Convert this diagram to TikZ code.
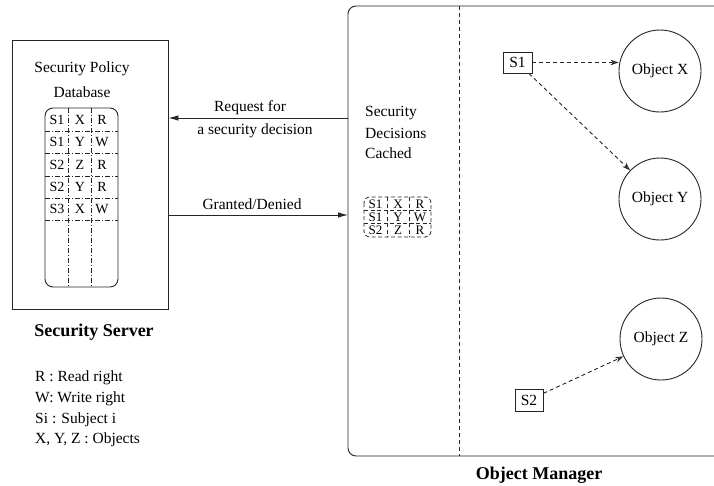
\documentclass[tikz,border=0pt]{standalone}
\usepackage{fontspec}
\setmainfont{Liberation Serif}
\usetikzlibrary{arrows.meta}

\tikzset{
  edge/.style={line width=0.9pt, draw=black!85},
  txt/.style={inner sep=0pt, font=\fontsize{15.5}{20}\selectfont},
  cell/.style={inner sep=0pt, font=\fontsize{14}{16}\selectfont},
  smallcell/.style={inner sep=0pt, font=\fontsize{13}{14}\selectfont},
  heading/.style={inner sep=0pt, font=\fontsize{18}{20}\selectfont\bfseries},
  subject/.style={draw=black!85, line width=0.9pt, inner sep=0pt,
    minimum width=29pt, minimum height=21pt, font=\fontsize{15.5}{20}\selectfont},
  object/.style={circle, draw=black!85, line width=0.9pt, inner sep=0pt,
    minimum size=82pt, font=\fontsize{15.5}{20}\selectfont},
  access/.style={edge, dash pattern=on 4pt off 3pt,
    -{Stealth[open, length=8pt, width=5.5pt]}},
  message/.style={edge, -{Latex[length=10pt, width=5.5pt]}},
  dashdot/.style={line width=0.8pt, draw=black!85,
    dash pattern=on 5pt off 2pt on 1pt off 2pt},
  cachedash/.style={line width=0.8pt, draw=black!85, dash pattern=on 4pt off 2.5pt},
}

\begin{document}
\begin{tikzpicture}[x=1pt, y=-1pt]
\useasboundingbox (0,0) rectangle (714,485);

% ---------- Security server ----------
\node[edge, draw, minimum width=156pt, minimum height=269pt, inner sep=0pt]
  (server) at (90,174.5) {};
\node[txt] (spol) at (82,69) {Security Policy};
\node[txt] (sdb) at (82,92) {Database};

% policy table
\draw[edge, rounded corners=8pt] (45,108) rectangle (118,287);
\foreach \x in {68,91} \draw[dashdot] (\x,108) -- (\x,287);
\foreach \y in {131,153,176,198,220} \draw[dashdot] (45,\y) -- (118,\y);
\foreach \s/\o/\r/\y [count=\i] in {S1/X/R/119.5, S1/Y/W/142, S2/Z/R/164.5, S2/Y/R/187, S3/X/W/209}{
  \node[cell] (ps\i) at (57,\y) {\s};
  \node[cell] (po\i) at (80,\y) {\o};
  \node[cell] (pr\i) at (102,\y) {\r};
}

\node[heading] (srvtitle) at (94,332) {Security Server};

% legend
\node[txt, anchor=west] (lgR) at (35,378) {R : Read right};
\node[txt, anchor=west] (lgW) at (35,399) {W: Write right};
\node[txt, anchor=west] (lgS) at (35,419.5) {Si : Subject i};
\node[txt, anchor=west] (lgX) at (35,440) {X, Y, Z : Objects};

% ---------- Object manager ----------
\draw[edge, rounded corners=8pt] (720,6) -- (348,6) -- (348,456) -- (720,456);
\draw[line width=0.8pt, draw=black!85, dash pattern=on 4pt off 3pt] (459,6) -- (459,456);
\node[heading] (omtitle) at (539,475) {Object Manager};

\coordinate (reqstart) at (348,118);
\coordinate (grantend) at (348,215);

% messages between server and manager
\draw[message] (reqstart) -- (server.east |- reqstart);
\draw[message] (server.east |- grantend) -- (grantend);
\node[txt] (lreq1) at (250,108) {Request for};
\node[txt] (lreq2) at (255,131) {a security decision};
\node[txt] (lgrant) at (252,204) {Granted/Denied};

% decision cache
\node[txt, anchor=west] (c1) at (365,113) {Security};
\node[txt, anchor=west] (c2) at (365,133.5) {Decisions};
\node[txt, anchor=west] (c3) at (365,153) {Cached};

\draw[cachedash, rounded corners=6pt] (364,197) rectangle (431,237);
\foreach \x in {387,409} \draw[cachedash] (\x,197) -- (\x,237);
\foreach \y in {210.5,223.5} \draw[cachedash] (364,\y) -- (431,\y);
\foreach \s/\o/\r/\y [count=\i] in {S1/X/R/204, S1/Y/W/217, S2/Z/R/230.5}{
  \node[smallcell] (cs\i) at (375.5,\y) {\s};
  \node[smallcell] (co\i) at (398,\y) {\o};
  \node[smallcell] (cr\i) at (420,\y) {\r};
}

% subjects and objects
\node[subject] (S1) at (517.5,62.5) {S1};
\node[subject, minimum width=28pt, minimum height=22pt] (S2) at (529,400) {S2};
\node[object] (OX) at (660,71) {Object X};
\node[object] (OY) at (660,199) {Object Y};
\node[object] (OZ) at (661,339) {Object Z};

\draw[access] (S1.east) -- (S1.east -| OX.west);
\draw[access] (S1) -- (OY);
\draw[access] (S2) -- (OZ);
\end{tikzpicture}
\end{document}
